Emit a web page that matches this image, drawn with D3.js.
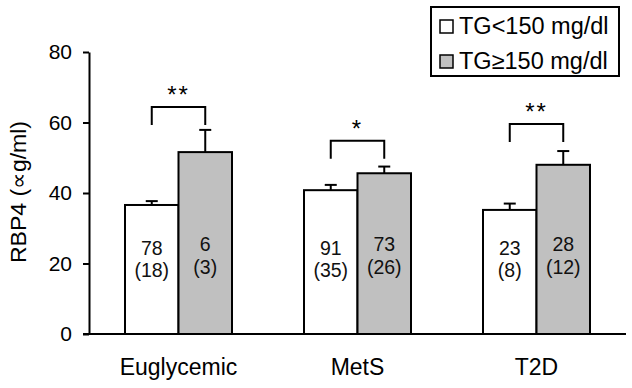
<!DOCTYPE html>
<html lang="en">
<head>
    <meta charset="UTF-8">
    <title>RBP4 by TG group</title>
    <script src="https://d3js.org/d3.v7.min.js"></script>
    <style>
        body { margin: 0; background: #fff; }
        svg { display: block; font-family: "Liberation Sans", Arial, sans-serif; }
        .axis .domain { stroke: #000; stroke-width: 2px; }
        .axis .tick line { stroke: #000; stroke-width: 2px; }
        .axis .tick text { font-size: 21px; fill: #000; }
    </style>
</head>
<body>
    <svg id="chart" width="632" height="388"></svg>
    <script>
        const categories = ["Euglycemic", "MetS", "T2D"];
        const seriesNames = ["TG<150 mg/dl", "TG\u2265150 mg/dl"];
        const meanLow = [36.6, 40.8, 35.2];
        const errLow = [1.1, 1.5, 1.8];
        const meanHigh = [51.6, 45.6, 48.0];
        const errHigh = [6.3, 1.9, 3.9];
        const countLow = ["78", "91", "23"];
        const subLow = ["(18)", "(35)", "(8)"];
        const countHigh = ["6", "73", "28"];
        const subHigh = ["(3)", "(26)", "(12)"];
        const sigMarks = ["**", "*", "**"];
        const bracketLevel = [64.4, 54.8, 59.6];
        const yTicks = [0, 20, 40, 60, 80];
        const fills = ["#ffffff", "#c0c0c0"];

        const svg = d3.select("#chart");

        const y = d3.scaleLinear().domain([0, 80]).range([334, 52]);
        const x = d3.scaleBand().domain(categories).range([89, 626]);
        const xs = d3.scaleBand().domain(seriesNames).range([0, x.bandwidth()]).paddingOuter(0.673);

        const rows = categories.map((c, i) => [
            {cat: c, s: seriesNames[0], v: meanLow[i], e: errLow[i], n: countLow[i], sub: subLow[i], fill: fills[0]},
            {cat: c, s: seriesNames[1], v: meanHigh[i], e: errHigh[i], n: countHigh[i], sub: subHigh[i], fill: fills[1]}
        ]).flat();

        const cx = d => x(d.cat) + xs(d.s) + xs.bandwidth() / 2;

        // error bars (behind bars)
        const eb = svg.append("g").attr("stroke", "#000").attr("stroke-width", 2);
        eb.selectAll("line.v").data(rows).enter().append("line")
            .attr("x1", cx).attr("x2", cx)
            .attr("y1", d => y(d.v)).attr("y2", d => y(d.v + d.e));
        eb.selectAll("line.c").data(rows).enter().append("line")
            .attr("x1", d => cx(d) - 6).attr("x2", d => cx(d) + 6)
            .attr("y1", d => y(d.v + d.e)).attr("y2", d => y(d.v + d.e));

        // bars
        svg.append("g").selectAll("rect").data(rows).enter().append("rect")
            .attr("x", d => x(d.cat) + xs(d.s))
            .attr("y", d => y(d.v))
            .attr("width", xs.bandwidth())
            .attr("height", d => y(0) - y(d.v))
            .attr("fill", d => d.fill)
            .attr("stroke", "#000")
            .attr("stroke-width", 2);

        // n labels inside bars
        const lab = svg.append("g").attr("text-anchor", "middle").attr("font-size", 19.5).attr("fill", "#111");
        lab.selectAll("text.n").data(rows).enter().append("text")
            .attr("x", cx)
            .attr("y", (d, i) => y(0) - (i % 2 ? 83 : 79))
            .text(d => d.n);
        lab.selectAll("text.s").data(rows).enter().append("text")
            .attr("x", cx)
            .attr("y", (d, i) => y(0) - (i % 2 ? 60 : 57))
            .text(d => d.sub);

        // significance brackets
        const br = svg.append("g");
        categories.forEach((c, i) => {
            const x1 = x(c) + xs(seriesNames[0]) + xs.bandwidth() / 2;
            const x2 = x(c) + xs(seriesNames[1]) + xs.bandwidth() / 2;
            const top = y(bracketLevel[i]);
            br.append("path")
                .attr("d", `M${x1},${top + 18}V${top}H${x2}V${top + 18}`)
                .attr("fill", "none").attr("stroke", "#000").attr("stroke-width", 2);
            br.append("text")
                .attr("x", (x1 + x2) / 2).attr("y", top - 4)
                .attr("text-anchor", "middle").attr("font-size", 24)
                .attr("letter-spacing", 2)
                .text(sigMarks[i]);
        });

        // y axis
        svg.append("g")
            .attr("class", "axis")
            .attr("transform", "translate(89,0)")
            .call(d3.axisLeft(y).tickValues(yTicks).tickSize(6).tickSizeOuter(0).tickPadding(11));

        // x axis baseline
        svg.append("line")
            .attr("x1", 83).attr("x2", 626)
            .attr("y1", y(0)).attr("y2", y(0))
            .attr("stroke", "#000").attr("stroke-width", 2);

        svg.append("g").selectAll("text").data(categories).enter().append("text")
            .attr("x", d => x(d) + x.bandwidth() / 2)
            .attr("y", 375)
            .attr("text-anchor", "middle")
            .attr("font-size", 23)
            .text(d => d);

        svg.append("text")
            .attr("transform", "translate(26,192) rotate(-90)")
            .attr("text-anchor", "middle")
            .attr("font-size", 22)
            .attr("textLength", 142)
            .attr("lengthAdjust", "spacingAndGlyphs")
            .text("RBP4 (\u221dg/ml)");

        // legend
        const lg = svg.append("g");
        lg.append("rect").attr("x", 431).attr("y", 7).attr("width", 188).attr("height", 69)
            .attr("fill", "#fff").attr("stroke", "#000").attr("stroke-width", 2);
        seriesNames.forEach((s, i) => {
            lg.append("rect").attr("x", 440).attr("y", 20 + i * 35).attr("width", 13).attr("height", 13)
                .attr("fill", fills[i]).attr("stroke", "#000").attr("stroke-width", 1.5);
            lg.append("text").attr("x", 459).attr("y", 34 + i * 35)
                .attr("font-size", 23.5).text(s);
        });
    </script>
</body>
</html>
